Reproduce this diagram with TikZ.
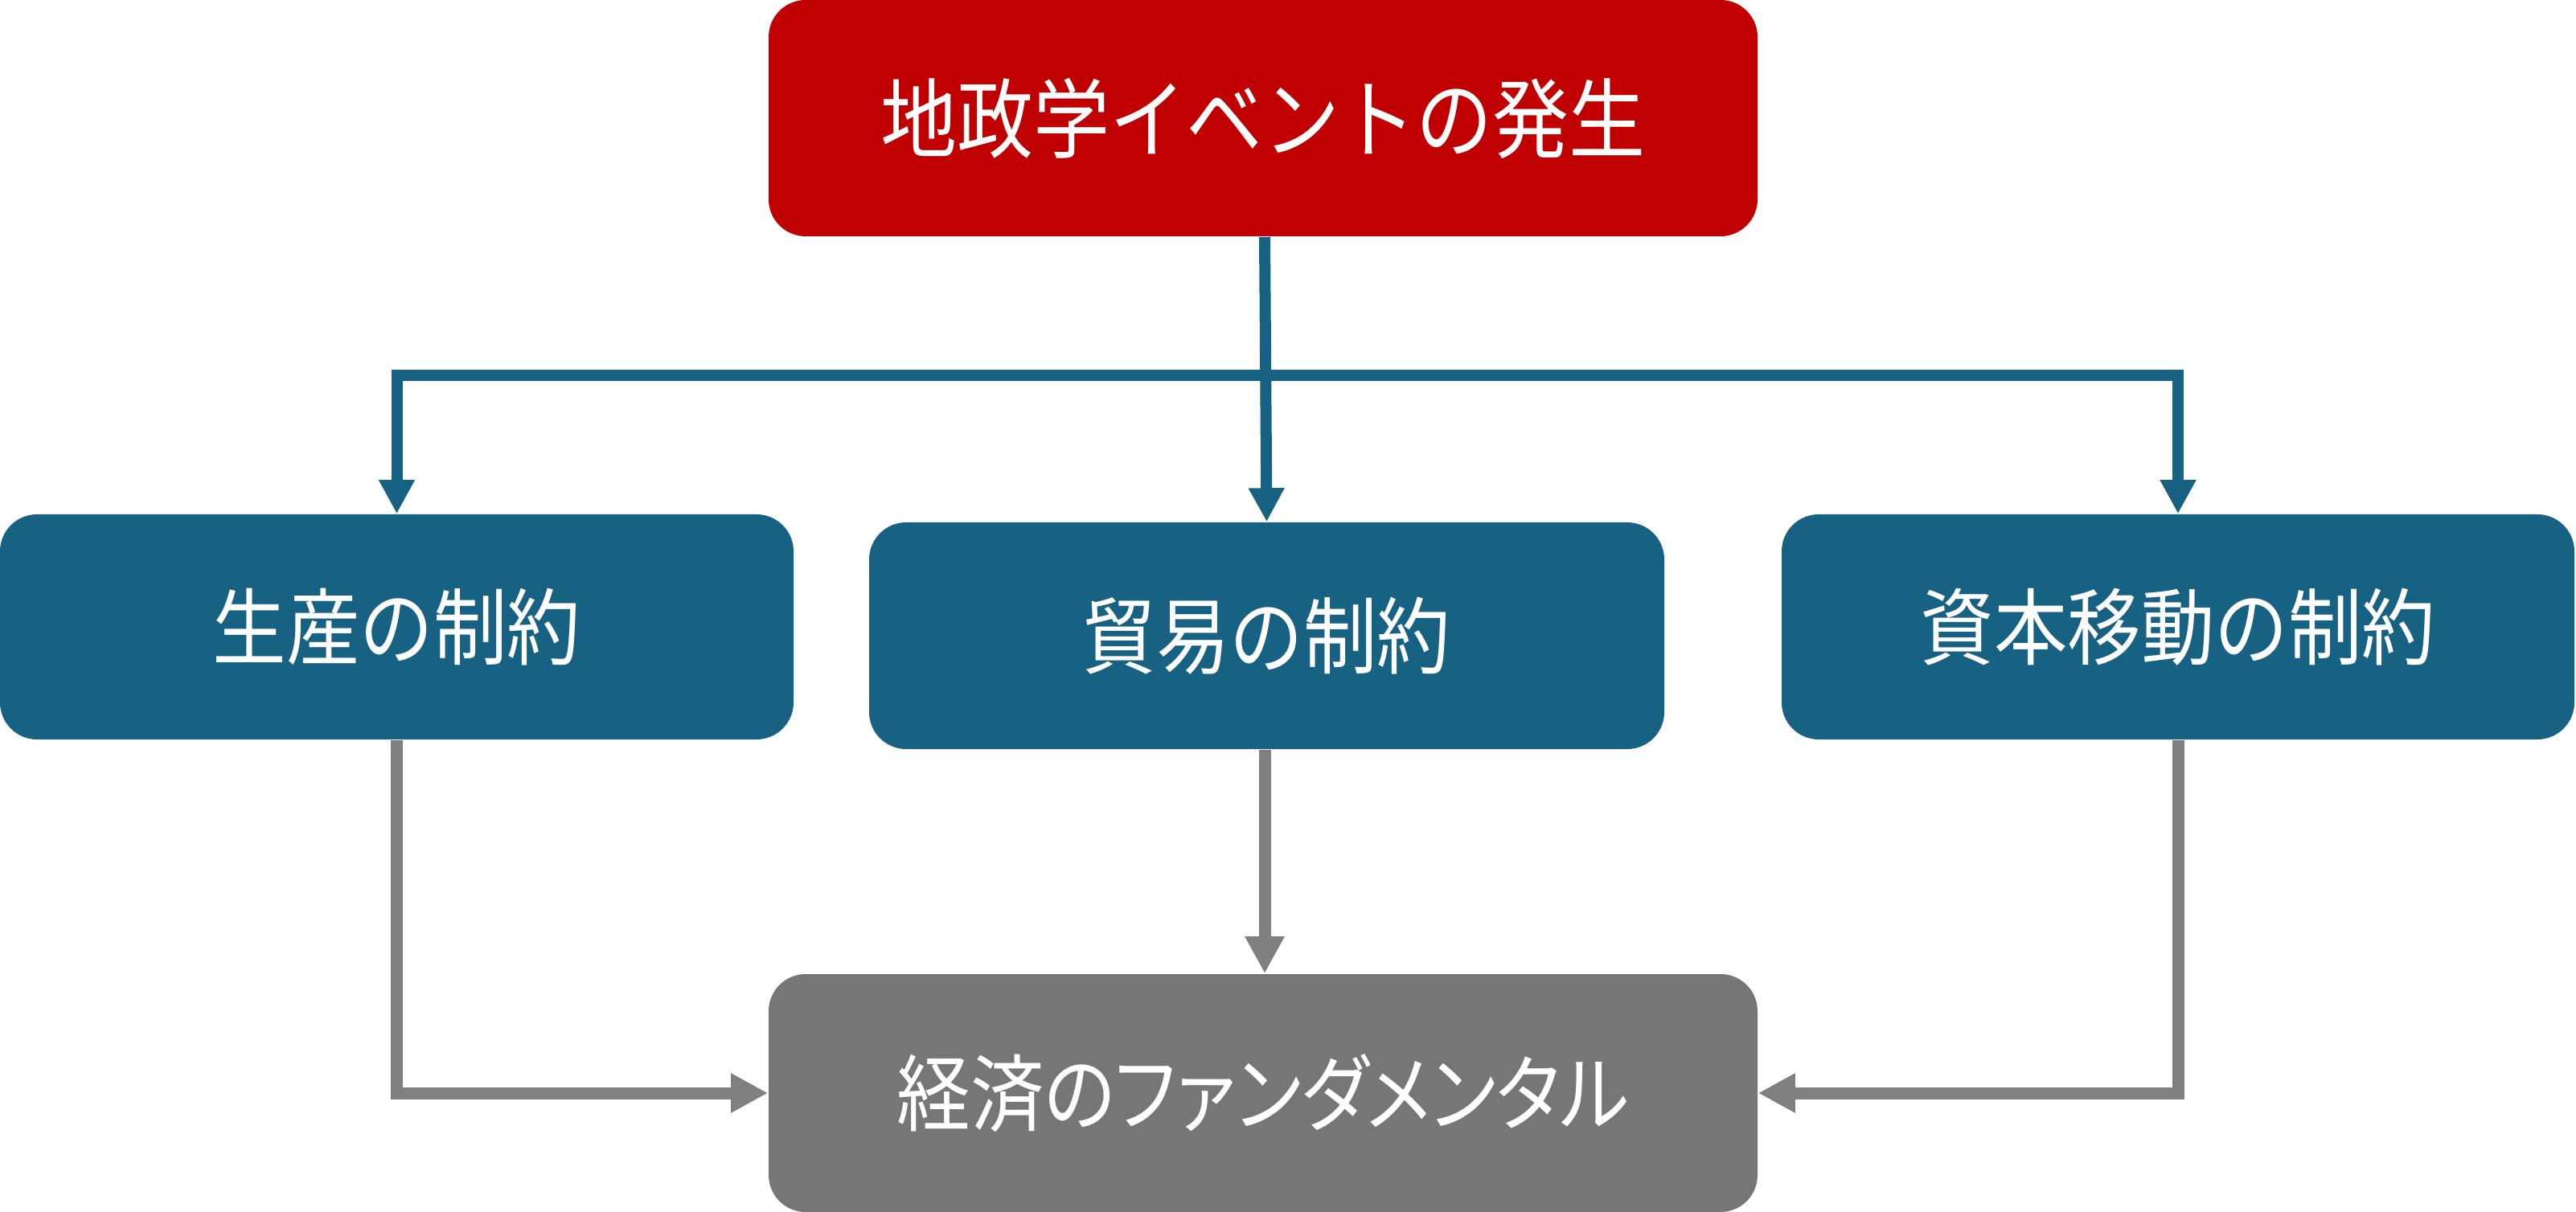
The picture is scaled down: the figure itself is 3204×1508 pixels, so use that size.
\documentclass[tikz,border=0pt]{standalone}
\usepackage{fontspec}
\newfontfamily\jp[FakeStretch=0.88]{Noto Sans CJK JP}
\newfontfamily\jpp[FakeStretch=0.88,RawFeature=+palt]{Noto Sans CJK JP}
\usetikzlibrary{arrows.meta}
\definecolor{topred}{HTML}{C00000}
\definecolor{midblue}{HTML}{176183}
\definecolor{boxgray}{HTML}{767676}
\definecolor{linegray}{HTML}{808080}
\tikzset{
  box/.style={rounded corners=11.5pt, inner sep=0pt, text=white, font=\jp\fontsize{26pt}{30pt}\selectfont},
  bluebox/.style={box, fill=midblue},
  blueline/.style={draw=midblue, line width=3.5pt, line join=miter, -{Triangle[length=10.5pt,width=10.5pt]}},
  grayline/.style={draw=linegray, line width=3.75pt, line join=miter, -{Triangle[length=11.5pt,width=11.5pt]}}
}
\begin{document}
\begin{tikzpicture}[x=0.25pt,y=-0.25pt]
\useasboundingbox (0,0) rectangle (3204,1508);
\node[box, fill=topred, minimum width=307.5pt, minimum height=73.5pt, font=\jp\fontsize{27pt}{30pt}\selectfont] (top) at (1571,147) {地政学イベントの発生};
\node[bluebox, minimum width=246.75pt, minimum height=70pt] (left) at (493.5,780) {生産の制約};
\node[bluebox, minimum width=247.25pt, minimum height=70.5pt] (mid) at (1575.5,791) {貿易の制約};
\node[bluebox, minimum width=246.5pt, minimum height=70pt] (right) at (2709,780) {資本移動の制約};
\node[box, fill=boxgray, minimum width=307.5pt, minimum height=74pt, font=\jpp\fontsize{26pt}{30pt}\selectfont] (bot) at (1571,1360) {経済のファンダメンタル};
\coordinate (bus) at (1573,467);
\draw[blueline] (top.south -| bus) -- (mid.north);
\draw[blueline] (bus) -| (left.north);
\draw[blueline] (bus) -| (right.north);
\draw[grayline] (left.south) |- (bot.west);
\draw[grayline] (mid.south -| bus) -- (bot.north -| bus);
\draw[grayline] (right.south) |- (bot.east);
\end{tikzpicture}
\end{document}
